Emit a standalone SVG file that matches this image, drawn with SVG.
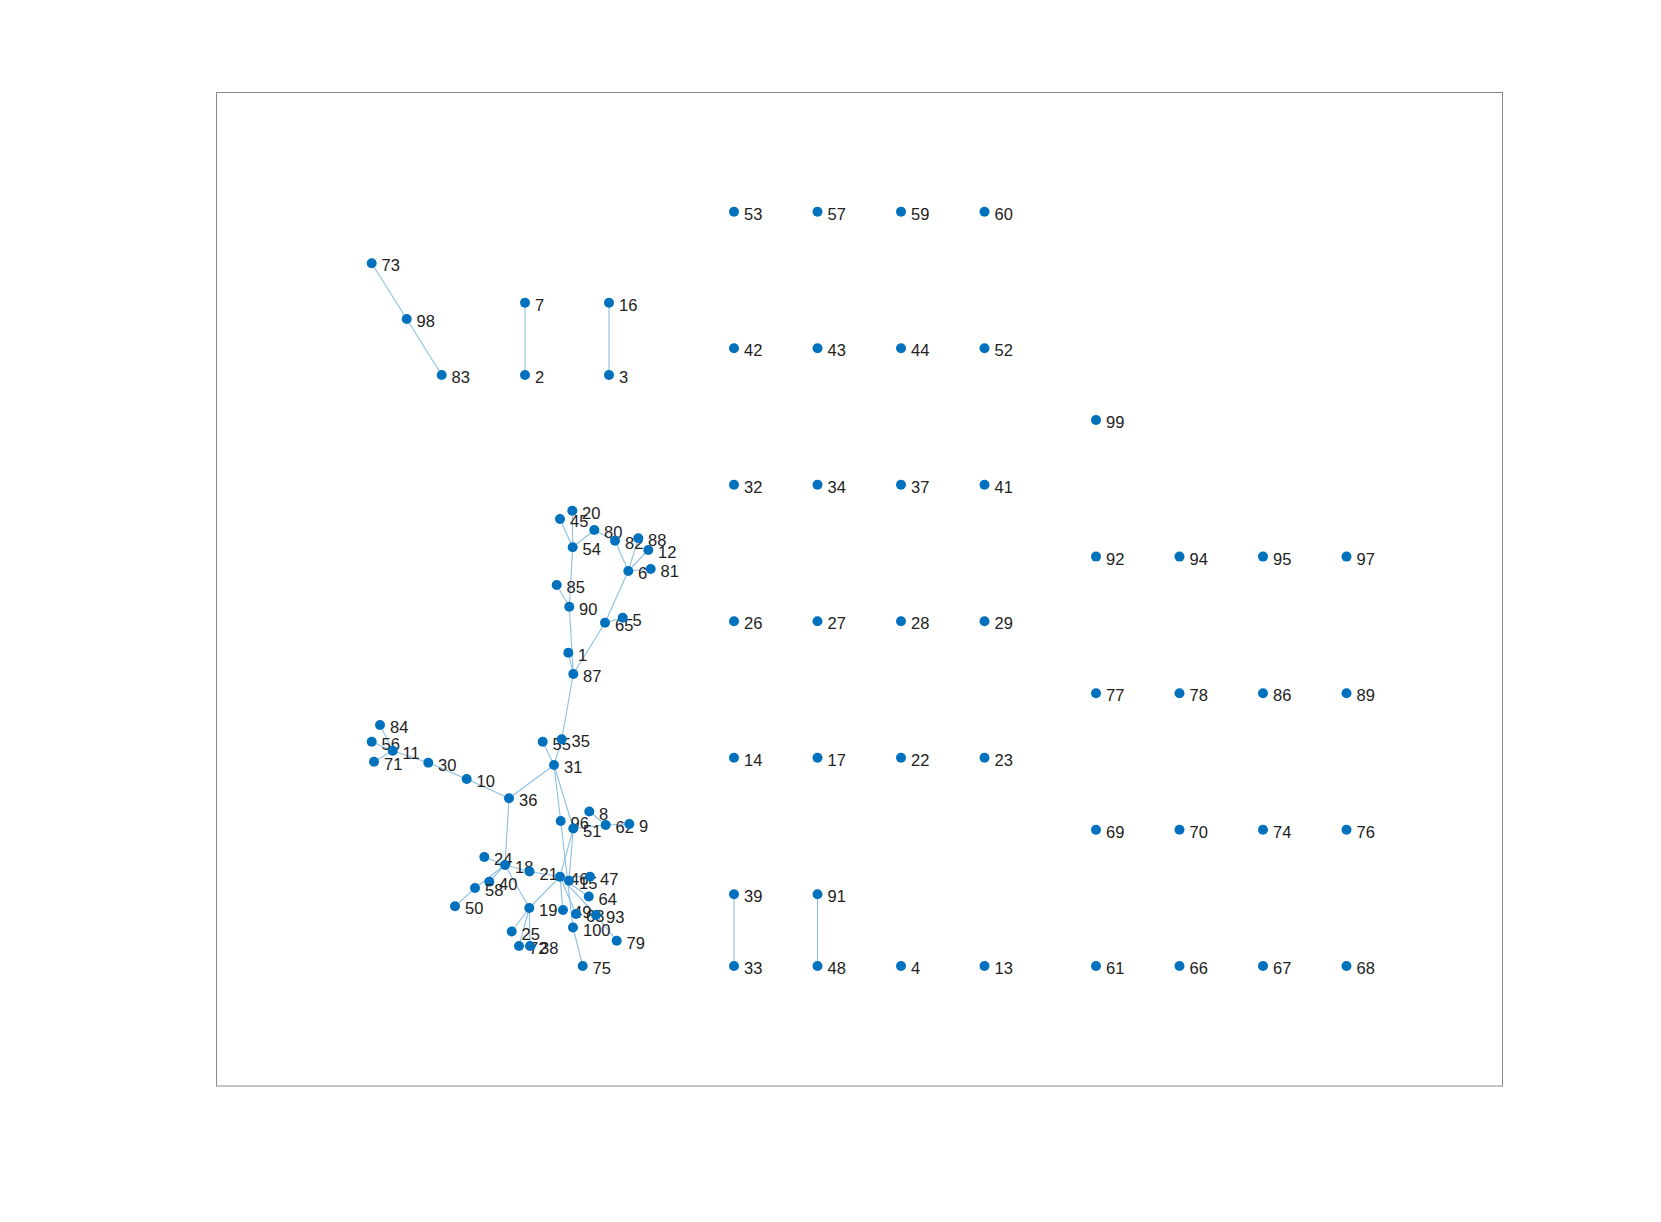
<svg xmlns="http://www.w3.org/2000/svg" width="1661" height="1222" viewBox="0 0 1661 1222">
<style>
.bg{fill:#fff}
.box{fill:none;stroke:#8a8a8a;stroke-width:1}
.e line{stroke:#8cc0e4;stroke-width:1.1}
circle{fill:#0072BD}
text{font-family:"Liberation Sans",Arial,sans-serif;font-size:16.5px;fill:#222}
</style>
<rect class="bg" x="0" y="0" width="1661" height="1222"/>
<rect class="box" x="216.5" y="92.5" width="1286" height="993.5"/>
<g id="edges" class="e">
<line x1="371.7" y1="263.3" x2="406.7" y2="319"/>
<line x1="406.7" y1="319" x2="441.7" y2="375"/>
<line x1="525" y1="302.7" x2="525" y2="375"/>
<line x1="609" y1="302.7" x2="609" y2="375"/>
<line x1="734" y1="894.3" x2="734" y2="966"/>
<line x1="817.5" y1="894.3" x2="817.5" y2="966"/>
<line x1="560" y1="519" x2="572.7" y2="547.3"/>
<line x1="572.3" y1="510.7" x2="572.7" y2="547.3"/>
<line x1="572.7" y1="547.3" x2="594.3" y2="530"/>
<line x1="594.3" y1="530" x2="615" y2="540.7"/>
<line x1="615" y1="540.7" x2="628.3" y2="571"/>
<line x1="638.3" y1="538.3" x2="628.3" y2="571"/>
<line x1="648.3" y1="550" x2="628.3" y2="571"/>
<line x1="650.7" y1="569" x2="628.3" y2="571"/>
<line x1="628.3" y1="571" x2="605" y2="622.7"/>
<line x1="605" y1="622.7" x2="622.7" y2="617.7"/>
<line x1="605" y1="622.7" x2="573.3" y2="674"/>
<line x1="572.7" y1="547.3" x2="569.3" y2="606.7"/>
<line x1="556.7" y1="585" x2="569.3" y2="606.7"/>
<line x1="569.3" y1="606.7" x2="573.3" y2="674"/>
<line x1="568.3" y1="652.7" x2="573.3" y2="674"/>
<line x1="573.3" y1="674" x2="561.7" y2="739.3"/>
<line x1="561.7" y1="739.3" x2="554" y2="765"/>
<line x1="542.7" y1="741.7" x2="554" y2="765"/>
<line x1="554" y1="765" x2="509" y2="798.3"/>
<line x1="509" y1="798.3" x2="466.7" y2="779"/>
<line x1="466.7" y1="779" x2="428.3" y2="762.7"/>
<line x1="428.3" y1="762.7" x2="392.7" y2="750.7"/>
<line x1="392.7" y1="750.7" x2="380" y2="725"/>
<line x1="392.7" y1="750.7" x2="371.7" y2="741.7"/>
<line x1="392.7" y1="750.7" x2="374" y2="761.7"/>
<line x1="509" y1="798.3" x2="505" y2="865"/>
<line x1="484.3" y1="857" x2="505" y2="865"/>
<line x1="505" y1="865" x2="529.5" y2="871.5"/>
<line x1="505" y1="865" x2="489.3" y2="881.7"/>
<line x1="505" y1="865" x2="475" y2="888"/>
<line x1="475" y1="888" x2="455" y2="906.3"/>
<line x1="505" y1="865" x2="529.3" y2="908"/>
<line x1="529.3" y1="908" x2="511.7" y2="931.5"/>
<line x1="529.3" y1="908" x2="519" y2="946"/>
<line x1="529.3" y1="908" x2="530" y2="946"/>
<line x1="529.3" y1="908" x2="560" y2="876.7"/>
<line x1="529.5" y1="871.5" x2="560" y2="876.7"/>
<line x1="554" y1="765" x2="560.7" y2="821"/>
<line x1="554" y1="765" x2="573.3" y2="828.5"/>
<line x1="560.7" y1="821" x2="573" y2="927.5"/>
<line x1="573.3" y1="828.5" x2="560" y2="876.7"/>
<line x1="573.3" y1="828.5" x2="569" y2="880.7"/>
<line x1="573.3" y1="828.5" x2="605.7" y2="825"/>
<line x1="605.7" y1="825" x2="629.3" y2="824"/>
<line x1="589.3" y1="811.5" x2="605.7" y2="825"/>
<line x1="560" y1="876.7" x2="590" y2="876.7"/>
<line x1="560" y1="876.7" x2="588.8" y2="896.5"/>
<line x1="560" y1="876.7" x2="563" y2="910"/>
<line x1="560" y1="876.7" x2="576" y2="914"/>
<line x1="560" y1="876.7" x2="596" y2="915"/>
<line x1="596" y1="915" x2="616.7" y2="940.7"/>
<line x1="573" y1="927.5" x2="582.7" y2="966"/>
</g>
<g id="n73"><circle cx="371.7" cy="263.3" r="5"/><text x="381.5" y="271">73</text></g>
<g id="n98"><circle cx="406.7" cy="319" r="5"/><text x="416.5" y="327">98</text></g>
<g id="n83"><circle cx="441.7" cy="375" r="5"/><text x="451.5" y="383">83</text></g>
<g id="n7"><circle cx="525" cy="302.7" r="5"/><text x="535" y="310.5">7</text></g>
<g id="n2"><circle cx="525" cy="375" r="5"/><text x="535" y="383">2</text></g>
<g id="n16"><circle cx="609" cy="302.7" r="5"/><text x="619" y="310.5">16</text></g>
<g id="n3"><circle cx="609" cy="375" r="5"/><text x="619" y="383">3</text></g>
<g id="n53"><circle cx="734" cy="211.7" r="5"/><text x="744" y="219.5">53</text></g>
<g id="n57"><circle cx="817.5" cy="211.7" r="5"/><text x="827.5" y="219.5">57</text></g>
<g id="n59"><circle cx="901" cy="211.7" r="5"/><text x="911" y="219.5">59</text></g>
<g id="n60"><circle cx="984.5" cy="211.7" r="5"/><text x="994.5" y="219.5">60</text></g>
<g id="n42"><circle cx="734" cy="348.2" r="5"/><text x="744" y="356">42</text></g>
<g id="n43"><circle cx="817.5" cy="348.2" r="5"/><text x="827.5" y="356">43</text></g>
<g id="n44"><circle cx="901" cy="348.2" r="5"/><text x="911" y="356">44</text></g>
<g id="n52"><circle cx="984.5" cy="348.2" r="5"/><text x="994.5" y="356">52</text></g>
<g id="n32"><circle cx="734" cy="484.7" r="5"/><text x="744" y="492.5">32</text></g>
<g id="n34"><circle cx="817.5" cy="484.7" r="5"/><text x="827.5" y="492.5">34</text></g>
<g id="n37"><circle cx="901" cy="484.7" r="5"/><text x="911" y="492.5">37</text></g>
<g id="n41"><circle cx="984.5" cy="484.7" r="5"/><text x="994.5" y="492.5">41</text></g>
<g id="n26"><circle cx="734" cy="621.2" r="5"/><text x="744" y="629">26</text></g>
<g id="n27"><circle cx="817.5" cy="621.2" r="5"/><text x="827.5" y="629">27</text></g>
<g id="n28"><circle cx="901" cy="621.2" r="5"/><text x="911" y="629">28</text></g>
<g id="n29"><circle cx="984.5" cy="621.2" r="5"/><text x="994.5" y="629">29</text></g>
<g id="n14"><circle cx="734" cy="757.8" r="5"/><text x="744" y="765.6">14</text></g>
<g id="n17"><circle cx="817.5" cy="757.8" r="5"/><text x="827.5" y="765.6">17</text></g>
<g id="n22"><circle cx="901" cy="757.8" r="5"/><text x="911" y="765.6">22</text></g>
<g id="n23"><circle cx="984.5" cy="757.8" r="5"/><text x="994.5" y="765.6">23</text></g>
<g id="n39"><circle cx="734" cy="894.3" r="5"/><text x="744" y="902">39</text></g>
<g id="n91"><circle cx="817.5" cy="894.3" r="5"/><text x="827.5" y="902">91</text></g>
<g id="n33"><circle cx="734" cy="966" r="5"/><text x="744" y="974">33</text></g>
<g id="n48"><circle cx="817.5" cy="966" r="5"/><text x="827.5" y="974">48</text></g>
<g id="n4"><circle cx="901" cy="966" r="5"/><text x="911" y="974">4</text></g>
<g id="n13"><circle cx="984.5" cy="966" r="5"/><text x="994.5" y="974">13</text></g>
<g id="n99"><circle cx="1096" cy="420" r="5"/><text x="1106" y="428">99</text></g>
<g id="n92"><circle cx="1096" cy="556.6" r="5"/><text x="1106" y="564.5">92</text></g>
<g id="n94"><circle cx="1179.5" cy="556.6" r="5"/><text x="1189.5" y="564.5">94</text></g>
<g id="n95"><circle cx="1263" cy="556.6" r="5"/><text x="1273" y="564.5">95</text></g>
<g id="n97"><circle cx="1346.5" cy="556.6" r="5"/><text x="1356.5" y="564.5">97</text></g>
<g id="n77"><circle cx="1096" cy="693.2" r="5"/><text x="1106" y="701">77</text></g>
<g id="n78"><circle cx="1179.5" cy="693.2" r="5"/><text x="1189.5" y="701">78</text></g>
<g id="n86"><circle cx="1263" cy="693.2" r="5"/><text x="1273" y="701">86</text></g>
<g id="n89"><circle cx="1346.5" cy="693.2" r="5"/><text x="1356.5" y="701">89</text></g>
<g id="n69"><circle cx="1096" cy="829.8" r="5"/><text x="1106" y="837.6">69</text></g>
<g id="n70"><circle cx="1179.5" cy="829.8" r="5"/><text x="1189.5" y="837.6">70</text></g>
<g id="n74"><circle cx="1263" cy="829.8" r="5"/><text x="1273" y="837.6">74</text></g>
<g id="n76"><circle cx="1346.5" cy="829.8" r="5"/><text x="1356.5" y="837.6">76</text></g>
<g id="n61"><circle cx="1096" cy="966" r="5"/><text x="1106" y="974">61</text></g>
<g id="n66"><circle cx="1179.5" cy="966" r="5"/><text x="1189.5" y="974">66</text></g>
<g id="n67"><circle cx="1263" cy="966" r="5"/><text x="1273" y="974">67</text></g>
<g id="n68"><circle cx="1346.5" cy="966" r="5"/><text x="1356.5" y="974">68</text></g>
<g id="n20"><circle cx="572.3" cy="510.7" r="5"/><text x="582" y="518.5">20</text></g>
<g id="n45"><circle cx="560" cy="519" r="5"/><text x="570" y="527">45</text></g>
<g id="n80"><circle cx="594.3" cy="530" r="5"/><text x="604" y="538">80</text></g>
<g id="n54"><circle cx="572.7" cy="547.3" r="5"/><text x="582.5" y="555">54</text></g>
<g id="n82"><circle cx="615" cy="540.7" r="5"/><text x="625" y="548.5">82</text></g>
<g id="n88"><circle cx="638.3" cy="538.3" r="5"/><text x="648" y="546">88</text></g>
<g id="n12"><circle cx="648.3" cy="550" r="5"/><text x="658" y="558">12</text></g>
<g id="n81"><circle cx="650.7" cy="569" r="5"/><text x="660.5" y="577">81</text></g>
<g id="n6"><circle cx="628.3" cy="571" r="5"/><text x="638" y="579">6</text></g>
<g id="n85"><circle cx="556.7" cy="585" r="5"/><text x="566.5" y="593">85</text></g>
<g id="n90"><circle cx="569.3" cy="606.7" r="5"/><text x="579" y="614.5">90</text></g>
<g id="n65"><circle cx="605" cy="622.7" r="5"/><text x="615" y="630.5">65</text></g>
<g id="n5"><circle cx="622.7" cy="617.7" r="5"/><text x="632.5" y="625.5">5</text></g>
<g id="n1"><circle cx="568.3" cy="652.7" r="5"/><text x="578" y="660.5">1</text></g>
<g id="n87"><circle cx="573.3" cy="674" r="5"/><text x="583" y="682">87</text></g>
<g id="n55"><circle cx="542.7" cy="741.7" r="5"/><text x="552.5" y="749.5">55</text></g>
<g id="n35"><circle cx="561.7" cy="739.3" r="5"/><text x="571.5" y="747">35</text></g>
<g id="n31"><circle cx="554" cy="765" r="5"/><text x="564" y="773">31</text></g>
<g id="n84"><circle cx="380" cy="725" r="5"/><text x="390" y="733">84</text></g>
<g id="n56"><circle cx="371.7" cy="741.7" r="5"/><text x="381.5" y="749.5">56</text></g>
<g id="n11"><circle cx="392.7" cy="750.7" r="5"/><text x="402.5" y="758.5">11</text></g>
<g id="n71"><circle cx="374" cy="761.7" r="5"/><text x="384" y="769.5">71</text></g>
<g id="n30"><circle cx="428.3" cy="762.7" r="5"/><text x="438" y="770.5">30</text></g>
<g id="n10"><circle cx="466.7" cy="779" r="5"/><text x="476.5" y="787">10</text></g>
<g id="n36"><circle cx="509" cy="798.3" r="5"/><text x="519" y="806">36</text></g>
<g id="n8"><circle cx="589.3" cy="811.5" r="5"/><text x="599" y="819.5">8</text></g>
<g id="n96"><circle cx="560.7" cy="821" r="5"/><text x="570.5" y="829">96</text></g>
<g id="n51"><circle cx="573.3" cy="828.5" r="5"/><text x="583" y="836.5">51</text></g>
<g id="n62"><circle cx="605.7" cy="825" r="5"/><text x="615.5" y="833">62</text></g>
<g id="n9"><circle cx="629.3" cy="824" r="5"/><text x="639" y="832">9</text></g>
<g id="n24"><circle cx="484.3" cy="857" r="5"/><text x="494" y="865">24</text></g>
<g id="n18"><circle cx="505" cy="865" r="5"/><text x="515" y="873">18</text></g>
<g id="n21"><circle cx="529.5" cy="871.5" r="5"/><text x="539.5" y="879.5">21</text></g>
<g id="n46"><circle cx="560" cy="876.7" r="5"/><text x="570" y="884.5">46</text></g>
<g id="n15"><circle cx="569" cy="880.7" r="5"/><text x="579" y="888.5">15</text></g>
<g id="n47"><circle cx="590" cy="876.7" r="5"/><text x="600" y="884.5">47</text></g>
<g id="n40"><circle cx="489.3" cy="881.7" r="5"/><text x="499" y="889.5">40</text></g>
<g id="n58"><circle cx="475" cy="888" r="5"/><text x="485" y="896">58</text></g>
<g id="n50"><circle cx="455" cy="906.3" r="5"/><text x="465" y="914">50</text></g>
<g id="n19"><circle cx="529.3" cy="908" r="5"/><text x="539" y="916">19</text></g>
<g id="n49"><circle cx="563" cy="910" r="5"/><text x="573" y="918">49</text></g>
<g id="n63"><circle cx="576" cy="914" r="5"/><text x="586" y="922">63</text></g>
<g id="n93"><circle cx="596" cy="915" r="5"/><text x="606" y="923">93</text></g>
<g id="n64"><circle cx="588.8" cy="896.5" r="5"/><text x="598.5" y="904.5">64</text></g>
<g id="n100"><circle cx="573" cy="927.5" r="5"/><text x="583" y="935.5">100</text></g>
<g id="n79"><circle cx="616.7" cy="940.7" r="5"/><text x="626.5" y="948.5">79</text></g>
<g id="n75"><circle cx="582.7" cy="966" r="5"/><text x="592.5" y="974">75</text></g>
<g id="n25"><circle cx="511.7" cy="931.5" r="5"/><text x="521.5" y="939.5">25</text></g>
<g id="n72"><circle cx="519" cy="946" r="5"/><text x="529" y="954">72</text></g>
<g id="n38"><circle cx="530" cy="946" r="5"/><text x="540" y="954">38</text></g>
</svg>
